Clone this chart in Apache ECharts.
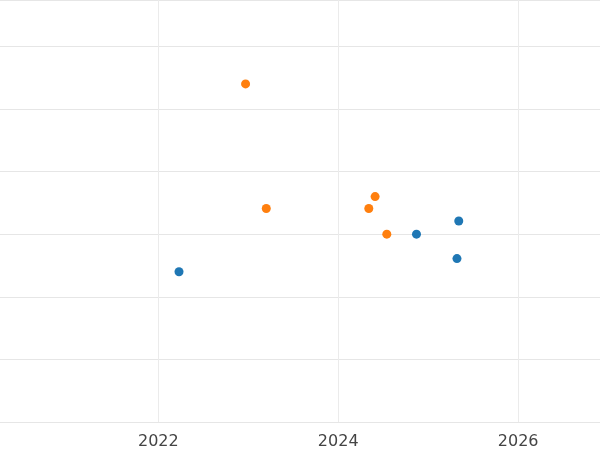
<!DOCTYPE html>
<html>
<head>
<meta charset="utf-8">
<script src="https://cdn.jsdelivr.net/npm/echarts@6/dist/echarts.min.js"></script>
<style>html,body{margin:0;padding:0;background:#fff}#chart{width:600px;height:450px}</style>
</head>
<body>
<div id="chart"></div>
<script>
// values: [year, value]
var blueData = [[2022.23, 2.40], [2024.87, 3.00], [2025.34, 3.21], [2025.32, 2.61]];
var orangeData = [[2022.97, 5.40], [2023.20, 3.41], [2024.41, 3.60], [2024.34, 3.41], [2024.54, 3.00]];
var yearTicks = [2022, 2024, 2026];

var myChart = echarts.init(document.getElementById('chart'));
var option = {
    animation: false,
    grid: { left: 0, right: 0, top: 0, bottom: 23, containLabel: false },
    xAxis: {
        type: 'value', min: 2020.24, max: 2026.91,
        axisLine: { show: false },
        axisTick: { show: false, customValues: yearTicks },
        splitLine: { lineStyle: { color: '#ebebeb' } },
        axisLabel: {
            customValues: yearTicks, color: '#444', fontSize: 16, margin: 12, fontFamily: 'DejaVu Sans',
            formatter: function (v) { return String(v); }
        }
    },
    yAxis: {
        type: 'value', min: 0, max: 6.74, interval: 1,
        axisLine: { show: false }, axisTick: { show: false }, axisLabel: { show: false },
        splitLine: { lineStyle: { color: '#e6e6e6' } }
    },
    series: [
        { type: 'scatter', data: blueData, symbolSize: 9, itemStyle: { color: '#1f77b4', opacity: 1 } },
        { type: 'scatter', data: orangeData, symbolSize: 9, itemStyle: { color: '#ff7f0e', opacity: 1 } }
    ]
};
myChart.setOption(option, true);
</script>
</body>
</html>
